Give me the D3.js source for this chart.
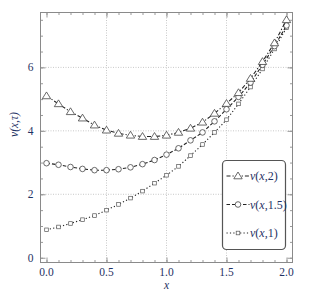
<html>
<head>
    <script src="https://cdn.jsdelivr.net/npm/d3@7"></script>
    <style>
        body { margin: 0; background: #fff; }
    </style>
</head>
<body>
<script>

    var xs = [0, 0.1, 0.2, 0.3, 0.4, 0.5, 0.6, 0.7, 0.8, 0.9, 1.0,
              1.1, 1.2, 1.3, 1.4, 1.5, 1.6, 1.7, 1.8, 1.9, 2.0];

    var v2 = [5.1, 4.85, 4.6, 4.4, 4.18, 4.02, 3.92, 3.86, 3.82, 3.82, 3.86,
              3.95, 4.08, 4.27, 4.55, 4.86, 5.2, 5.65, 6.18, 6.77, 7.5];
    var v15 = [2.98, 2.93, 2.86, 2.8, 2.76, 2.76, 2.79, 2.85, 2.95, 3.08, 3.25,
               3.45, 3.7, 3.95, 4.3, 4.68, 5.07, 5.52, 6.08, 6.67, 7.32];
    var v1 = [0.88, 0.97, 1.08, 1.2, 1.33, 1.5, 1.68, 1.88, 2.1, 2.35, 2.6,
              2.88, 3.22, 3.57, 3.95, 4.35, 4.85, 5.38, 5.95, 6.58, 7.25];

    var xTicks = [0, 0.5, 1.0, 1.5, 2.0];
    var yTicks = [0, 2, 4, 6];

    var series = [
        { name: 'v(x,2)', arg: '2', values: v2, marker: 'triangle', dash: '4,2,1.2,2' },
        { name: 'v(x,1.5)', arg: '1.5', values: v15, marker: 'circle', dash: '3.5,2' },
        { name: 'v(x,1)', arg: '1', values: v1, marker: 'square', dash: '1.2,2.2' }
    ];

    var w = 319, h = 291;
    var pLeft = 40.5, pRight = 292.5, pTop = 12.5, pBottom = 262.5;
    var labelColor = '#1f3264';
    var serif = '"Liberation Serif", "DejaVu Serif", serif';

    var x = d3.scaleLinear().domain([-0.05, 2.05]).range([pLeft, pRight]);
    var y = d3.scaleLinear().domain([-0.15, 7.73]).range([pBottom, pTop]);

    var svg = d3.select('body').append('svg')
        .attr('width', w)
        .attr('height', h)
        .attr('font-family', serif);

    // grid
    svg.append('g').selectAll('line')
        .data([0.5, 1.0, 1.5])
        .enter().append('line')
        .attr('x1', d => x(d)).attr('x2', d => x(d))
        .attr('y1', pTop).attr('y2', pBottom)
        .attr('stroke', '#c8c8c8').attr('stroke-dasharray', '1,1.5');
    svg.append('g').selectAll('line')
        .data([2, 4, 6])
        .enter().append('line')
        .attr('y1', d => y(d)).attr('y2', d => y(d))
        .attr('x1', pLeft).attr('x2', pRight)
        .attr('stroke', '#c8c8c8').attr('stroke-dasharray', '1,1.5');

    // axes with inward ticks on all four sides
    var xMinor = d3.range(0, 2.01, 0.1).map(d => +d.toFixed(1));
    var yMinor = d3.range(0, 7.6, 0.5);

    function tickAxis(axisFn, scale, vals, size) {
        return axisFn(scale).tickValues(vals).tickSize(size).tickFormat('');
    }

    var frame = svg.append('g');
    frame.append('g').attr('transform', 'translate(0,' + pBottom + ')')
        .call(tickAxis(d3.axisTop, x, xMinor, 2.5));
    frame.append('g').attr('transform', 'translate(0,' + pBottom + ')')
        .call(tickAxis(d3.axisTop, x, xTicks, 5));
    frame.append('g').attr('transform', 'translate(0,' + pTop + ')')
        .call(tickAxis(d3.axisBottom, x, xMinor, 2.5));
    frame.append('g').attr('transform', 'translate(0,' + pTop + ')')
        .call(tickAxis(d3.axisBottom, x, xTicks, 5));
    frame.append('g').attr('transform', 'translate(' + pLeft + ',0)')
        .call(tickAxis(d3.axisRight, y, yMinor, 2.5));
    frame.append('g').attr('transform', 'translate(' + pLeft + ',0)')
        .call(tickAxis(d3.axisRight, y, yTicks, 5));
    frame.append('g').attr('transform', 'translate(' + pRight + ',0)')
        .call(tickAxis(d3.axisLeft, y, yMinor, 2.5));
    frame.append('g').attr('transform', 'translate(' + pRight + ',0)')
        .call(tickAxis(d3.axisLeft, y, yTicks, 5));
    frame.selectAll('.domain').remove();
    frame.selectAll('line').attr('stroke', '#999');

    svg.append('rect')
        .attr('x', pLeft).attr('y', pTop)
        .attr('width', pRight - pLeft).attr('height', pBottom - pTop)
        .attr('fill', 'none').attr('stroke', '#8a8a8a').attr('stroke-width', 1);

    // tick labels
    svg.append('g').selectAll('text')
        .data(xTicks)
        .enter().append('text')
        .attr('x', d => x(d)).attr('y', pBottom + 13.5)
        .attr('text-anchor', 'middle')
        .attr('font-size', 11.5).attr('fill', labelColor)
        .text(d => d.toFixed(1));
    svg.append('g').selectAll('text')
        .data(yTicks)
        .enter().append('text')
        .attr('x', pLeft - 7).attr('y', d => y(d) + 4)
        .attr('text-anchor', 'end')
        .attr('font-size', 11.5).attr('fill', labelColor)
        .text(d => d);

    svg.append('text')
        .attr('x', x(1.0)).attr('y', pBottom + 26.5)
        .attr('text-anchor', 'middle').attr('font-style', 'italic')
        .attr('font-size', 11.5).attr('fill', labelColor)
        .text('x');
    svg.append('text')
        .attr('transform', 'translate(18,' + y(4.2) + ') rotate(-90)')
        .attr('text-anchor', 'middle').attr('font-style', 'italic')
        .attr('font-size', 11.5).attr('fill', labelColor)
        .text('v(x,τ)');

    // markers
    function drawMarker(g, type, cx, cy) {
        if (type === 'triangle') {
            g.append('path')
                .attr('d', 'M' + cx + ',' + (cy - 4) + 'L' + (cx + 4.2) + ',' + (cy + 2.8) + 'L' + (cx - 4.2) + ',' + (cy + 2.8) + 'Z')
                .attr('fill', '#fff').attr('stroke', '#444').attr('stroke-width', 0.8);
        } else if (type === 'circle') {
            g.append('circle').attr('cx', cx).attr('cy', cy).attr('r', 2.8)
                .attr('fill', '#fff').attr('stroke', '#444').attr('stroke-width', 0.8);
        } else {
            g.append('rect').attr('x', cx - 1.8).attr('y', cy - 1.8)
                .attr('width', 3.6).attr('height', 3.6)
                .attr('fill', '#fff').attr('stroke', '#555').attr('stroke-width', 0.7);
        }
    }

    var line = d3.line()
        .x((d, i) => x(xs[i]))
        .y(d => y(d));

    series.slice().reverse().forEach(s => {
        var g = svg.append('g');
        g.append('path')
            .attr('d', line(s.values))
            .attr('fill', 'none')
            .attr('stroke', '#222')
            .attr('stroke-width', 1.1)
            .attr('stroke-dasharray', s.dash);
        s.values.forEach((v, i) => drawMarker(g, s.marker, x(xs[i]), y(v)));
    });

    // legend
    var lx = 222.5, ly = 160.5, lw = 63, lh = 89;
    var legend = svg.append('g');
    legend.append('rect')
        .attr('x', lx).attr('y', ly).attr('width', lw).attr('height', lh)
        .attr('rx', 4).attr('fill', '#fff')
        .attr('stroke', '#555').attr('stroke-width', 1.2);

    series.forEach((s, i) => {
        var cy = ly + 15.5 + i * 28.5;
        legend.append('line')
            .attr('x1', lx + 4).attr('x2', lx + 27)
            .attr('y1', cy).attr('y2', cy)
            .attr('stroke', '#222').attr('stroke-width', 1.1)
            .attr('stroke-dasharray', s.dash);
        drawMarker(legend, s.marker, lx + 15.5, cy);
        var t = legend.append('text')
            .attr('x', lx + 27.5).attr('y', cy + 4)
            .attr('font-size', 12).attr('fill', labelColor);
        t.append('tspan').attr('font-style', 'italic').text('v');
        t.append('tspan').text('(');
        t.append('tspan').attr('font-style', 'italic').text('x');
        t.append('tspan').text(',' + s.arg + ')');
    });

</script>
</body>
</html>
